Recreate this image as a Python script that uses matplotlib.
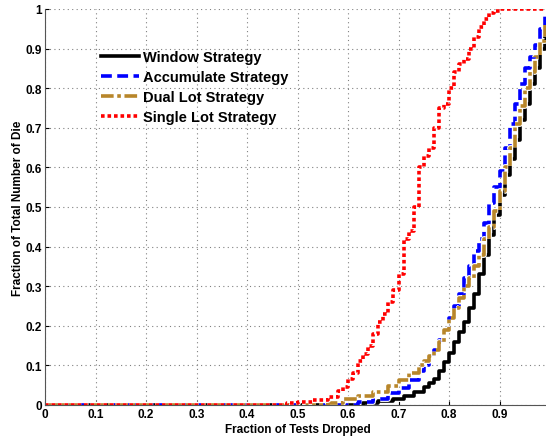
import matplotlib
matplotlib.use("Agg")
import matplotlib.pyplot as plt
import matplotlib.patheffects as pe

plt.rcParams['font.family'] = ['Liberation Sans', 'DejaVu Sans']

# Empirical CDFs of the fraction of tests dropped, per strategy
window_x = [0, 0.60, 0.63, 0.66, 0.69, 0.71, 0.73, 0.75, 0.76, 0.77, 0.78, 0.79, 0.80,
            0.81, 0.82, 0.83, 0.84, 0.85, 0.86, 0.87, 0.88, 0.89, 0.90, 0.91, 0.92,
            0.93, 0.94, 0.95, 0.96, 0.97, 0.98, 0.99]
window_y = [0, 0.0, 0.005, 0.01, 0.015, 0.022, 0.032, 0.045, 0.055, 0.066, 0.085, 0.108,
            0.132, 0.16, 0.185, 0.21, 0.245, 0.28, 0.33, 0.38, 0.43, 0.48, 0.53, 0.58,
            0.62, 0.67, 0.72, 0.76, 0.81, 0.85, 0.90, 0.96]

accum_x = [0, 0.58, 0.62, 0.65, 0.68, 0.70, 0.72, 0.74, 0.75, 0.76, 0.77, 0.78, 0.79,
           0.80, 0.81, 0.82, 0.83, 0.84, 0.85, 0.86, 0.87, 0.88, 0.89, 0.90, 0.91, 0.92,
           0.93, 0.94, 0.95, 0.96, 0.97, 0.98, 0.99]
accum_y = [0, 0, 0.008, 0.016, 0.03, 0.042, 0.062, 0.085, 0.1, 0.118, 0.14, 0.165, 0.19,
           0.22, 0.25, 0.28, 0.32, 0.35, 0.39, 0.42, 0.46, 0.51, 0.55, 0.59, 0.65, 0.71,
           0.76, 0.81, 0.85, 0.88, 0.91, 0.95, 0.99]

dual_x = [0, 0.53, 0.56, 0.59, 0.62, 0.65, 0.68, 0.70, 0.72, 0.74, 0.75, 0.76, 0.77, 0.78,
          0.79, 0.80, 0.81, 0.82, 0.83, 0.84, 0.85, 0.86, 0.87, 0.88, 0.89, 0.90, 0.91,
          0.92, 0.93, 0.94, 0.95, 0.96, 0.97, 0.98, 0.99]
dual_y = [0, 0, 0.006, 0.014, 0.022, 0.032, 0.048, 0.062, 0.08, 0.1, 0.11, 0.124, 0.14,
          0.16, 0.19, 0.22, 0.245, 0.27, 0.3, 0.32, 0.35, 0.38, 0.42, 0.45, 0.49, 0.54,
          0.6, 0.65, 0.71, 0.755, 0.8, 0.84, 0.88, 0.92, 0.96]

single_x = [0, 0.44, 0.48, 0.50, 0.53, 0.56, 0.58, 0.59, 0.60, 0.61, 0.62, 0.63, 0.64,
            0.65, 0.66, 0.67, 0.68, 0.69, 0.70, 0.71, 0.72, 0.73, 0.74, 0.75, 0.76, 0.77,
            0.78, 0.79, 0.80, 0.81, 0.82, 0.83, 0.84, 0.85, 0.86, 0.87, 0.88, 0.89, 0.90, 0.99]
single_y = [0, 0, 0.004, 0.008, 0.013, 0.02, 0.035, 0.045, 0.065, 0.08, 0.11, 0.13, 0.15,
            0.18, 0.21, 0.23, 0.26, 0.29, 0.33, 0.42, 0.44, 0.5, 0.6, 0.63, 0.65, 0.7,
            0.75, 0.76, 0.8, 0.84, 0.86, 0.875, 0.9, 0.93, 0.955, 0.975, 0.99, 0.995, 1.0, 1.0]

x_ticks = [0, 0.1, 0.2, 0.3, 0.4, 0.5, 0.6, 0.7, 0.8, 0.9]
y_ticks = [0, 0.1, 0.2, 0.3, 0.4, 0.5, 0.6, 0.7, 0.8, 0.9, 1]
x_tick_labels = ['0', '0.1', '0.2', '0.3', '0.4', '0.5', '0.6', '0.7', '0.8', '0.9']
y_tick_labels = ['0', '0.1', '0.2', '0.3', '0.4', '0.5', '0.6', '0.7', '0.8', '0.9', '1']

fig = plt.figure(figsize=(5.46, 4.39), dpi=100)
ax = fig.add_axes([45 / 546, 33 / 439, 505 / 546, 396 / 439])

halo = [pe.withStroke(linewidth=4.2, foreground='white')]
series = [
    (window_x, window_y, 'Window Strategy', dict(color='black', linestyle='-')),
    (accum_x, accum_y, 'Accumulate Strategy', dict(color=(0, 0, 1), linestyle=(0, (3, 1.5)))),
    (dual_x, dual_y, 'Dual Lot Strategy', dict(color='#b8862a', linestyle=(0, (3.5, 1, 1, 1)))),
    (single_x, single_y, 'Single Lot Strategy', dict(color=(1, 0, 0), linestyle=(0, (1, 0.8)))),
]
for xs, ys, label, style in series:
    ax.step(xs, ys, where='post', linewidth=2.6, label=label,
            path_effects=halo, **style)

ax.set_xlim(0, 1)
ax.set_ylim(0, 1)
ax.set_xticks(x_ticks)
ax.set_xticklabels(x_tick_labels)
ax.set_yticks(y_ticks)
ax.set_yticklabels(y_tick_labels)
ax.tick_params(direction='in', length=3, labelsize=8.5, pad=2, colors='black')
for lbl in ax.get_xticklabels() + ax.get_yticklabels():
    lbl.set_fontweight('bold')
ax.grid(True, linestyle=(0, (1, 3)), color='#808080', linewidth=0.8)
ax.spines['top'].set_visible(False)
ax.spines['right'].set_visible(False)
ax.spines['left'].set_color('#555555')
ax.spines['bottom'].set_color('#555555')

ax.set_xlabel('Fraction of Tests Dropped', fontsize=8.5, fontweight='bold', labelpad=2)
ax.set_ylabel('Fraction of Total Number of Die', fontsize=8.5, fontweight='bold', labelpad=1)

leg = ax.legend(loc='upper left', bbox_to_anchor=(0.1, 0.91), frameon=False,
                prop={'size': 10.5, 'weight': 'bold'}, handlelength=2.6,
                handletextpad=0.25, labelspacing=0.4, borderaxespad=0)

fig.savefig('out.png', dpi=100)
